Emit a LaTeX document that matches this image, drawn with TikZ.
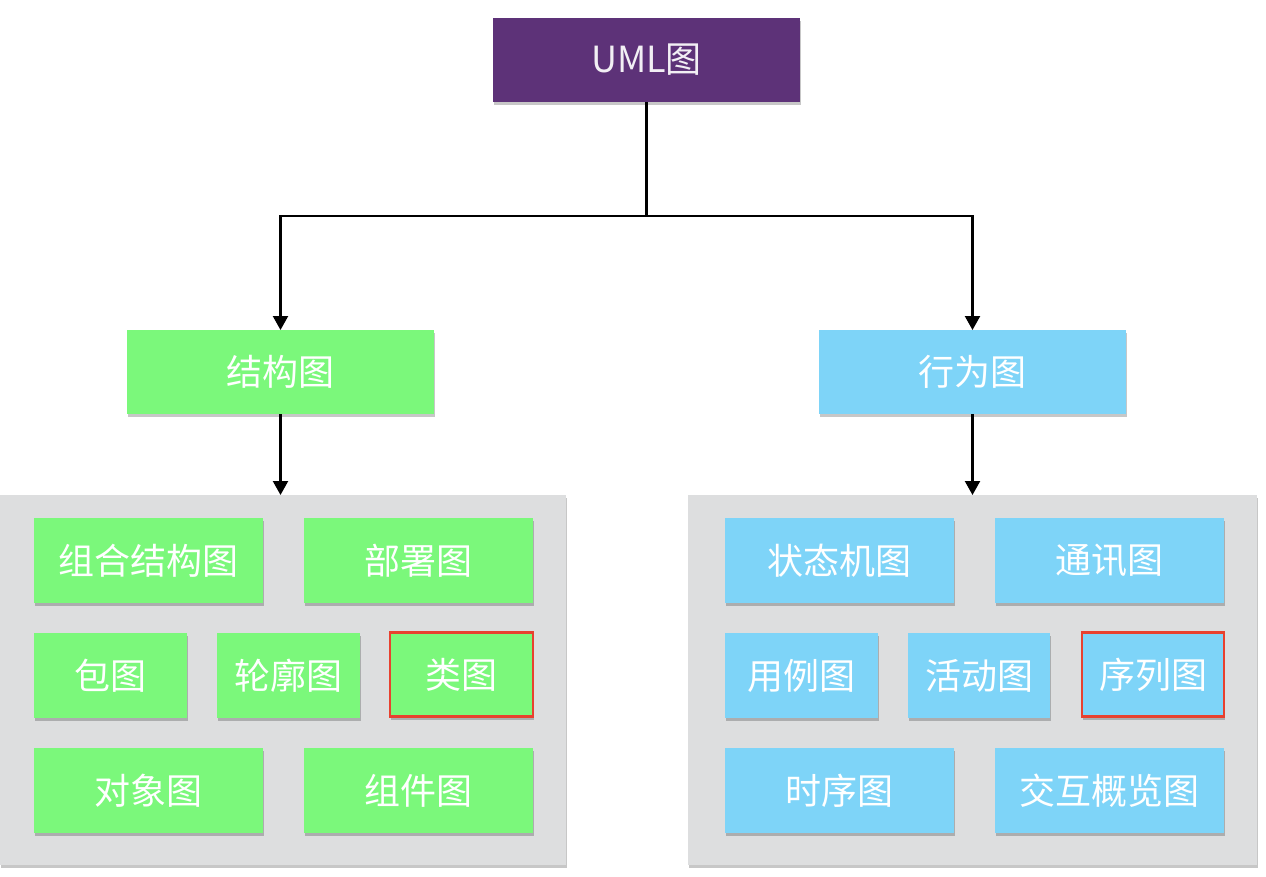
\documentclass[tikz,border=0pt]{standalone}
\usepackage{fontspec}
\setmainfont{Noto Sans CJK SC}
\usetikzlibrary{shadows,arrows.meta}
\definecolor{umlpurple}{HTML}{5D3278}
\definecolor{boxgreen}{HTML}{7BF87B}
\definecolor{boxblue}{HTML}{7ED4F8}
\definecolor{panelgray}{HTML}{DDDEDF}
\definecolor{markred}{HTML}{E8412F}
\tikzset{
  shad/.style={drop shadow={shadow xshift=1pt,shadow yshift=-3pt,opacity=0.22,fill=black}},
  boxbase/.style={shad,text=white,inner sep=0pt,outer sep=0pt,font=\fontsize{36}{40}\selectfont},
  topbox/.style={boxbase,fill=umlpurple,text=white!92!umlpurple,minimum width=307pt,minimum height=84pt},
  midgreen/.style={boxbase,fill=boxgreen,minimum width=307pt,minimum height=84pt},
  midblue/.style={boxbase,fill=boxblue,minimum width=307pt,minimum height=84pt},
  greenbox/.style={boxbase,fill=boxgreen,minimum height=85pt},
  bluebox/.style={boxbase,fill=boxblue,minimum height=85pt},
  wide/.style={minimum width=229pt},
  redmark/.style={draw=markred,line width=2.5pt},
  panel/.style={shad,fill=panelgray,inner sep=0pt,outer sep=0pt,minimum height=370pt},
  conn/.style={line width=2.2pt,-{Triangle[width=15pt,length=14pt]}},
  plainline/.style={line width=2.2pt}
}
\begin{document}
\begin{tikzpicture}[x=1pt,y=-1pt]
\useasboundingbox[fill=white] (0,0) rectangle (1266,876);
% panels
\node[panel,minimum width=566pt] (lp) at (283,680) {};
\node[panel,minimum width=569pt] (rp) at (972.5,680) {};
% top
\node[topbox] (uml) at (646.5,60) {UML图};
% second level
\node[midgreen] (jg) at (280.5,372) {结构图};
\node[midblue] (xw) at (972.5,372) {行为图};
% connectors
\coordinate (split) at (646.5,216);
\draw[plainline] (uml.south) -- (split);
\draw[conn] (split) -| (jg.north);
\draw[conn] (split) -| (xw.north);
\draw[conn] (jg.south) -- (jg.south |- lp.north);
\draw[conn] (xw.south) -- (xw.south |- rp.north);
% left inner
\node[greenbox,wide] (a1) at (148.5,560.5) {组合结构图};
\node[greenbox,wide] (a2) at (418.5,560.5) {部署图};
\node[greenbox,minimum width=153pt] (a3) at (110.5,675.5) {包图};
\node[greenbox,minimum width=143pt] (a4) at (288.5,675.5) {轮廓图};
\node[greenbox,redmark,minimum width=143pt,minimum height=84pt] (a5) at (461.5,674.5) {类图};
\node[greenbox,wide] (a6) at (148.5,790.5) {对象图};
\node[greenbox,wide] (a7) at (418.5,790.5) {组件图};
% right inner
\node[bluebox,wide] (b1) at (839.5,560.5) {状态机图};
\node[bluebox,wide] (b2) at (1109.5,560.5) {通讯图};
\node[bluebox,minimum width=153pt] (b3) at (801.5,675.5) {用例图};
\node[bluebox,minimum width=142pt] (b4) at (979,675.5) {活动图};
\node[bluebox,redmark,minimum width=142pt,minimum height=84pt] (b5) at (1153,674.5) {序列图};
\node[bluebox,wide] (b6) at (839.5,790.5) {时序图};
\node[bluebox,wide] (b7) at (1109.5,790.5) {交互概览图};
\end{tikzpicture}
\end{document}
